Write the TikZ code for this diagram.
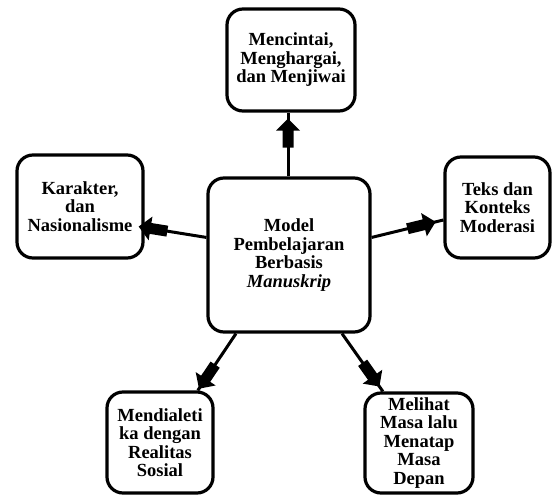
\documentclass[tikz,border=0pt]{standalone}
\usepackage{fontspec}
\setmainfont{Liberation Serif}
\usetikzlibrary{decorations.markings}
\begin{document}
\begin{tikzpicture}[x=1pt,y=-1pt,
  box/.style={draw=black, line width=3.2pt, rounded corners=16pt, fill=white,
    align=center, font=\fontsize{18.5}{18.5}\selectfont\bfseries, inner sep=0pt},
  conn/.style={line width=3pt, postaction={decorate},
    decoration={markings, mark=at position 1 with {
      \fill[black, xshift=-#1] (0,0) -- (-12,12) -- (-12,5.5) -- (-29,5.5) -- (-29,-5.5) -- (-12,-5.5) -- (-12,-12) -- cycle;}}},
]
\useasboundingbox (0,0) rectangle (552,495);

\node[box, minimum width=128pt, minimum height=102pt] (top) at (291,60) {Mencintai,\\Menghargai,\\dan Menjiwai};
\node[box, minimum width=162pt, minimum height=154pt] (c) at (289,255) {Model\\Pembelajaran\\Berbasis\\\textit{Manuskrip}};
\node[box, minimum width=126pt, minimum height=103pt] (l) at (80,206.5) {Karakter,\\dan\\Nasionalisme};
\node[box, minimum width=105pt, minimum height=101pt] (r) at (497.5,207.5) {Teks dan\\Konteks\\Moderasi};
\node[box, minimum width=106pt, minimum height=101pt] (bl) at (160,442.5) {Mendialeti\\ka dengan\\Realitas\\Sosial};
\node[box, minimum width=108pt, minimum height=100pt] (br) at (419,443) {Melihat\\Masa lalu\\Menatap\\Masa\\Depan};

\draw[conn=6pt] (c.north -| 288,0) -- (top.south -| 288,0);
\draw[conn=-6pt] (c.168) -- (l.342.5);
\draw[conn=8pt] (c.12.5) -- (r.193.4);
\draw[conn=2pt] (c.236) -- (bl.54.8);
\draw[conn=6pt] (c.304.5) -- (br.125.8);

\end{tikzpicture}
\end{document}
